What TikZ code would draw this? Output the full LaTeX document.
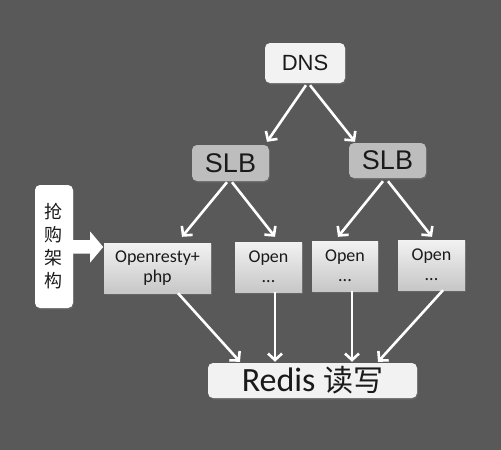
\documentclass[tikz,border=0pt]{standalone}
\usepackage{fontspec}
\setmainfont{Carlito}
\newfontfamily\arialf{Liberation Sans}
\newfontfamily\cjk{Noto Sans CJK SC}
\usetikzlibrary{arrows.meta,calc,shadows}
\definecolor{bg}{HTML}{595959}
\definecolor{lite}{HTML}{F2F2F2}
\definecolor{slbc}{HTML}{BDBDBD}
\definecolor{txt}{HTML}{1A1A1A}
\begin{document}
\begin{tikzpicture}[x=1pt,y=-1pt,
  shad/.style={drop shadow={opacity=0.35,shadow xshift=1pt,shadow yshift=-1.5pt}},
  topbox/.style={shad,fill=lite,rounded corners=5pt,inner sep=0pt,text=txt},
  slbbox/.style={shad,fill=slbc,rounded corners=5pt,inner sep=0pt,text=txt,minimum width=77pt,minimum height=36pt,font=\arialf\fontsize{27}{30}\selectfont},
  srvbox/.style={shad,top color=lite,bottom color=slbc!85!white,inner sep=0pt,text=txt,minimum height=50pt,align=center,font=\fontsize{18}{20}\selectfont},
  arr/.style={draw=white,line width=2.6pt,-{Straight Barb[length=6.5pt,width=14pt]}}
]
\fill[bg] (0,0) rectangle (501,450);
\useasboundingbox (0,0) rectangle (501,450);

\node[topbox,minimum width=80pt,minimum height=40pt,font=\arialf\fontsize{22}{24}\selectfont] (dns) at (305,63) {DNS};
\node[slbbox] (slbL) at (230.5,163) {SLB};
\node[slbbox,minimum height=35pt] (slbR) at (387.5,160.5) {SLB};

\node[srvbox,minimum width=107pt] (or) at (157.5,268) {Openresty+\\php};
\node[srvbox,minimum width=67pt] (o2) at (268.5,267) {Open\\...};
\node[srvbox,minimum width=66pt] (o3) at (345,266) {Open\\...};
\node[srvbox,minimum width=67pt] (o4) at (431.5,265) {Open\\...};

\node[topbox,fill=white,minimum width=38pt,minimum height=123pt,align=center,font=\cjk\fontsize{18}{23}\selectfont] (qg) at (54,246.5) {抢\\购\\架\\构};

\node[topbox,minimum width=209pt,minimum height=35pt,font=\fontsize{34}{36}\selectfont] (redis) at (312.5,380.5) {Redis {\cjk\fontsize{30}{34}\selectfont 读写}};

% block arrow
\coordinate (tip) at ($(qg.east)+(30,0.5)$);
\fill[white] ($(qg.east)+(0,-6.5)$) -- ($(qg.east)+(17,-6.5)$) -- ($(qg.east)+(17,-15)$) -- (tip)
  -- ($(qg.east)+(17,16)$) -- ($(qg.east)+(17,7)$) -- ($(qg.east)+(0,7)$) -- cycle;

\draw[arr] ($(dns.south)+(1,2)$) -- ($(slbL.north)+(36.5,-3)$);
\draw[arr] ($(dns.south)+(5,2)$) -- ($(slbR.north)+(-32.5,-1)$);

\draw[arr] ($(slbL.south)+(-3.5,1)$) -- ($(or.north)+(24.5,-6)$);
\draw[arr] ($(slbL.south)+(1.5,1)$) -- ($(o2.north)+(6.5,-5)$);
\draw[arr] ($(slbR.south)+(-4.5,3)$) -- ($(o3.north)+(-7,-4)$);
\draw[arr] ($(slbR.south)+(0.5,3)$) -- ($(o4.north)+(0.5,-3)$);

\draw[arr] ($(or.south)+(20.5,0)$) -- ($(redis.north)+(-72.5,-1)$);
\draw[arr] ($(o2.south)+(6.5,0)$) -- ($(redis.north)+(-37.5,-1)$);
\draw[arr] ($(o3.south)+(7,0)$) -- ($(redis.north)+(39.5,-1)$);
\draw[arr] ($(o4.south)+(11.5,0)$) -- ($(redis.north)+(65.5,-1)$);
\end{tikzpicture}
\end{document}
